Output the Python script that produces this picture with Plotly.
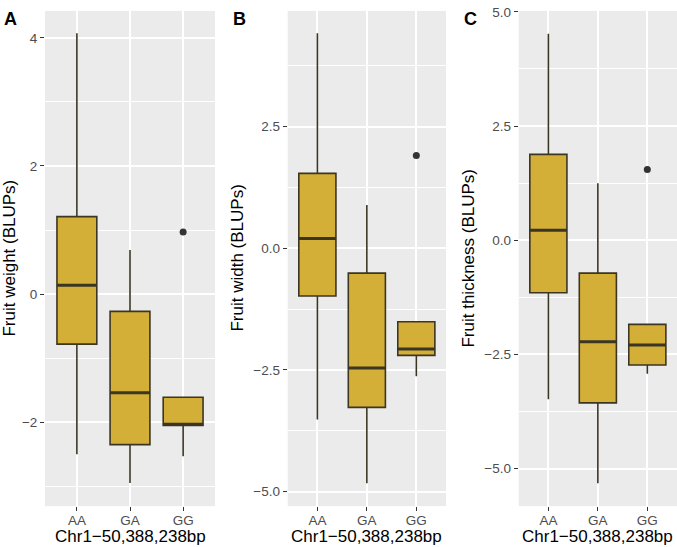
import plotly.graph_objects as go

# Genotypen am Marker Chr1-50,388,238bp
genotypes = ["AA", "GA", "GG"]

# Boxplot-Kennwerte: untere Antenne, Q1, Median, Q3, obere Antenne, Ausreisser
weight_low = [-2.50, -2.95, -2.53]
weight_q1 = [-0.78, -2.35, -2.05]
weight_med = [0.14, -1.54, -2.03]
weight_q3 = [1.21, -0.27, -1.61]
weight_high = [4.07, 0.69, -1.61]
weight_out = [None, None, 0.97]

width_low = [-3.52, -4.83, -2.63]
width_q1 = [-0.98, -3.27, -2.20]
width_med = [0.20, -2.46, -2.07]
width_q3 = [1.54, -0.51, -1.51]
width_high = [4.42, 0.89, -1.51]
width_out = [None, None, 1.91]

thick_low = [-3.48, -5.32, -2.92]
thick_q1 = [-1.15, -3.56, -2.73]
thick_med = [0.22, -2.22, -2.29]
thick_q3 = [1.88, -0.72, -1.84]
thick_high = [4.52, 1.25, -1.84]
thick_out = [None, None, 1.55]

FILL = "#D4AF37"
EDGE = "#3b3524"
BOX_W = 0.75

panels = [
    dict(letter="A", title="Fruit weight (BLUPs)", low=weight_low, q1=weight_q1, med=weight_med,
         q3=weight_q3, high=weight_high, out=weight_out, yrange=[-3.31, 4.42],
         dtick=2, tickformat="d", dom=[45, 215], ytitle_x=10, letter_x=2),
    dict(letter="B", title="Fruit width (BLUPs)", low=width_low, q1=width_q1, med=width_med,
         q3=width_q3, high=width_high, out=width_out, yrange=[-5.30, 4.88],
         dtick=2.5, tickformat=".1f", dom=[287.7, 446], ytitle_x=238, letter_x=231),
    dict(letter="C", title="Fruit thickness (BLUPs)", low=thick_low, q1=thick_q1, med=thick_med,
         q3=thick_q3, high=thick_high, out=thick_out, yrange=[-5.82, 5.02],
         dtick=2.5, tickformat=".1f", dom=[518.7, 677], ytitle_x=469, letter_x=462),
]

W, H = 677, 547
top_px, bot_px = 5, 505.7
ydom = [(H - bot_px) / H, (H - top_px) / H]

fig = go.Figure()
annotations = []
xpos = [1, 2, 3]

for i, p in enumerate(panels):
    n = "" if i == 0 else str(i + 1)
    xa, ya = "x" + n, "y" + n

    fig.add_trace(go.Box(
        x=xpos, q1=p["q1"], median=p["med"], q3=p["q3"],
        lowerfence=p["low"], upperfence=p["high"],
        width=BOX_W, whiskerwidth=0, fillcolor=FILL,
        line=dict(color=EDGE, width=1.6), boxpoints=False,
        xaxis=xa, yaxis=ya, showlegend=False, hoverinfo="skip",
    ))

    # dicke Medianlinie wie bei ggplot
    for x, m in zip(xpos, p["med"]):
        fig.add_trace(go.Scatter(
            x=[x - BOX_W / 2, x + BOX_W / 2], y=[m, m], mode="lines",
            line=dict(color=EDGE, width=3), xaxis=xa, yaxis=ya,
            showlegend=False, hoverinfo="skip",
        ))

    ox = [x for x, o in zip(xpos, p["out"]) if o is not None]
    oy = [o for o in p["out"] if o is not None]
    fig.add_trace(go.Scatter(
        x=ox, y=oy, mode="markers", marker=dict(color="#333333", size=7),
        xaxis=xa, yaxis=ya, showlegend=False, hoverinfo="skip",
    ))

    xkey = "xaxis" + n
    ykey = "yaxis" + n
    fig.layout[xkey] = dict(
        domain=[p["dom"][0] / W, p["dom"][1] / W], anchor=ya,
        range=[0.4, 3.6], tickvals=xpos, ticktext=genotypes,
        showgrid=True, gridcolor="white", gridwidth=1.7, zeroline=False,
        ticks="outside", ticklen=4, tickcolor="#333333", tickwidth=1.2,
        tickfont=dict(size=13.5, color="#4D4D4D"), showline=False, fixedrange=True,
        ticklabelstandoff=-2,
    )
    fig.layout[ykey] = dict(
        domain=ydom, anchor=xa, range=p["yrange"],
        tick0=0, dtick=p["dtick"], tickformat=p["tickformat"],
        showgrid=True, gridcolor="white", gridwidth=1.7, zeroline=False,
        minor=dict(dtick=p["dtick"] / 2, tick0=0, showgrid=True,
                   gridcolor="white", gridwidth=0.8),
        ticks="outside", ticklen=4, tickcolor="#333333", tickwidth=1.2,
        tickfont=dict(size=13.5, color="#4D4D4D"), showline=False, fixedrange=True,
        ticklabeloverflow="allow",
    )

    annotations.append(dict(
        text="<b>" + p["letter"] + "</b>", x=p["letter_x"] / W, y=1 - 13 / H,
        xref="paper", yref="paper", xanchor="left", yanchor="middle",
        showarrow=False, font=dict(size=18, color="black"),
    ))
    annotations.append(dict(
        text=p["title"], x=p["ytitle_x"] / W, y=1 - (top_px + bot_px) / 2 / H,
        xref="paper", yref="paper", xanchor="center", yanchor="middle",
        textangle=-90, showarrow=False, font=dict(size=17, color="black"),
    ))
    annotations.append(dict(
        text="Chr1\u221250,388,238bp", x=(p["dom"][0] + p["dom"][1]) / 2 / W,
        y=(H - 536.5) / H, xref="paper", yref="paper", xanchor="center",
        yanchor="middle", showarrow=False, font=dict(size=17, color="black"),
    ))

fig.update_layout(
    width=W, height=H,
    margin=dict(l=0, r=0, t=0, b=0),
    paper_bgcolor="white", plot_bgcolor="#EBEBEB",
    font=dict(family="Liberation Sans, Arial, sans-serif"),
    annotations=annotations,
    showlegend=False,
)

# Seitenrand entfernen, damit die Grafik genau ins Fenster passt
fig.write_html("out.html", config={"displayModeBar": False},
               post_script="document.body.style.margin='0';")
